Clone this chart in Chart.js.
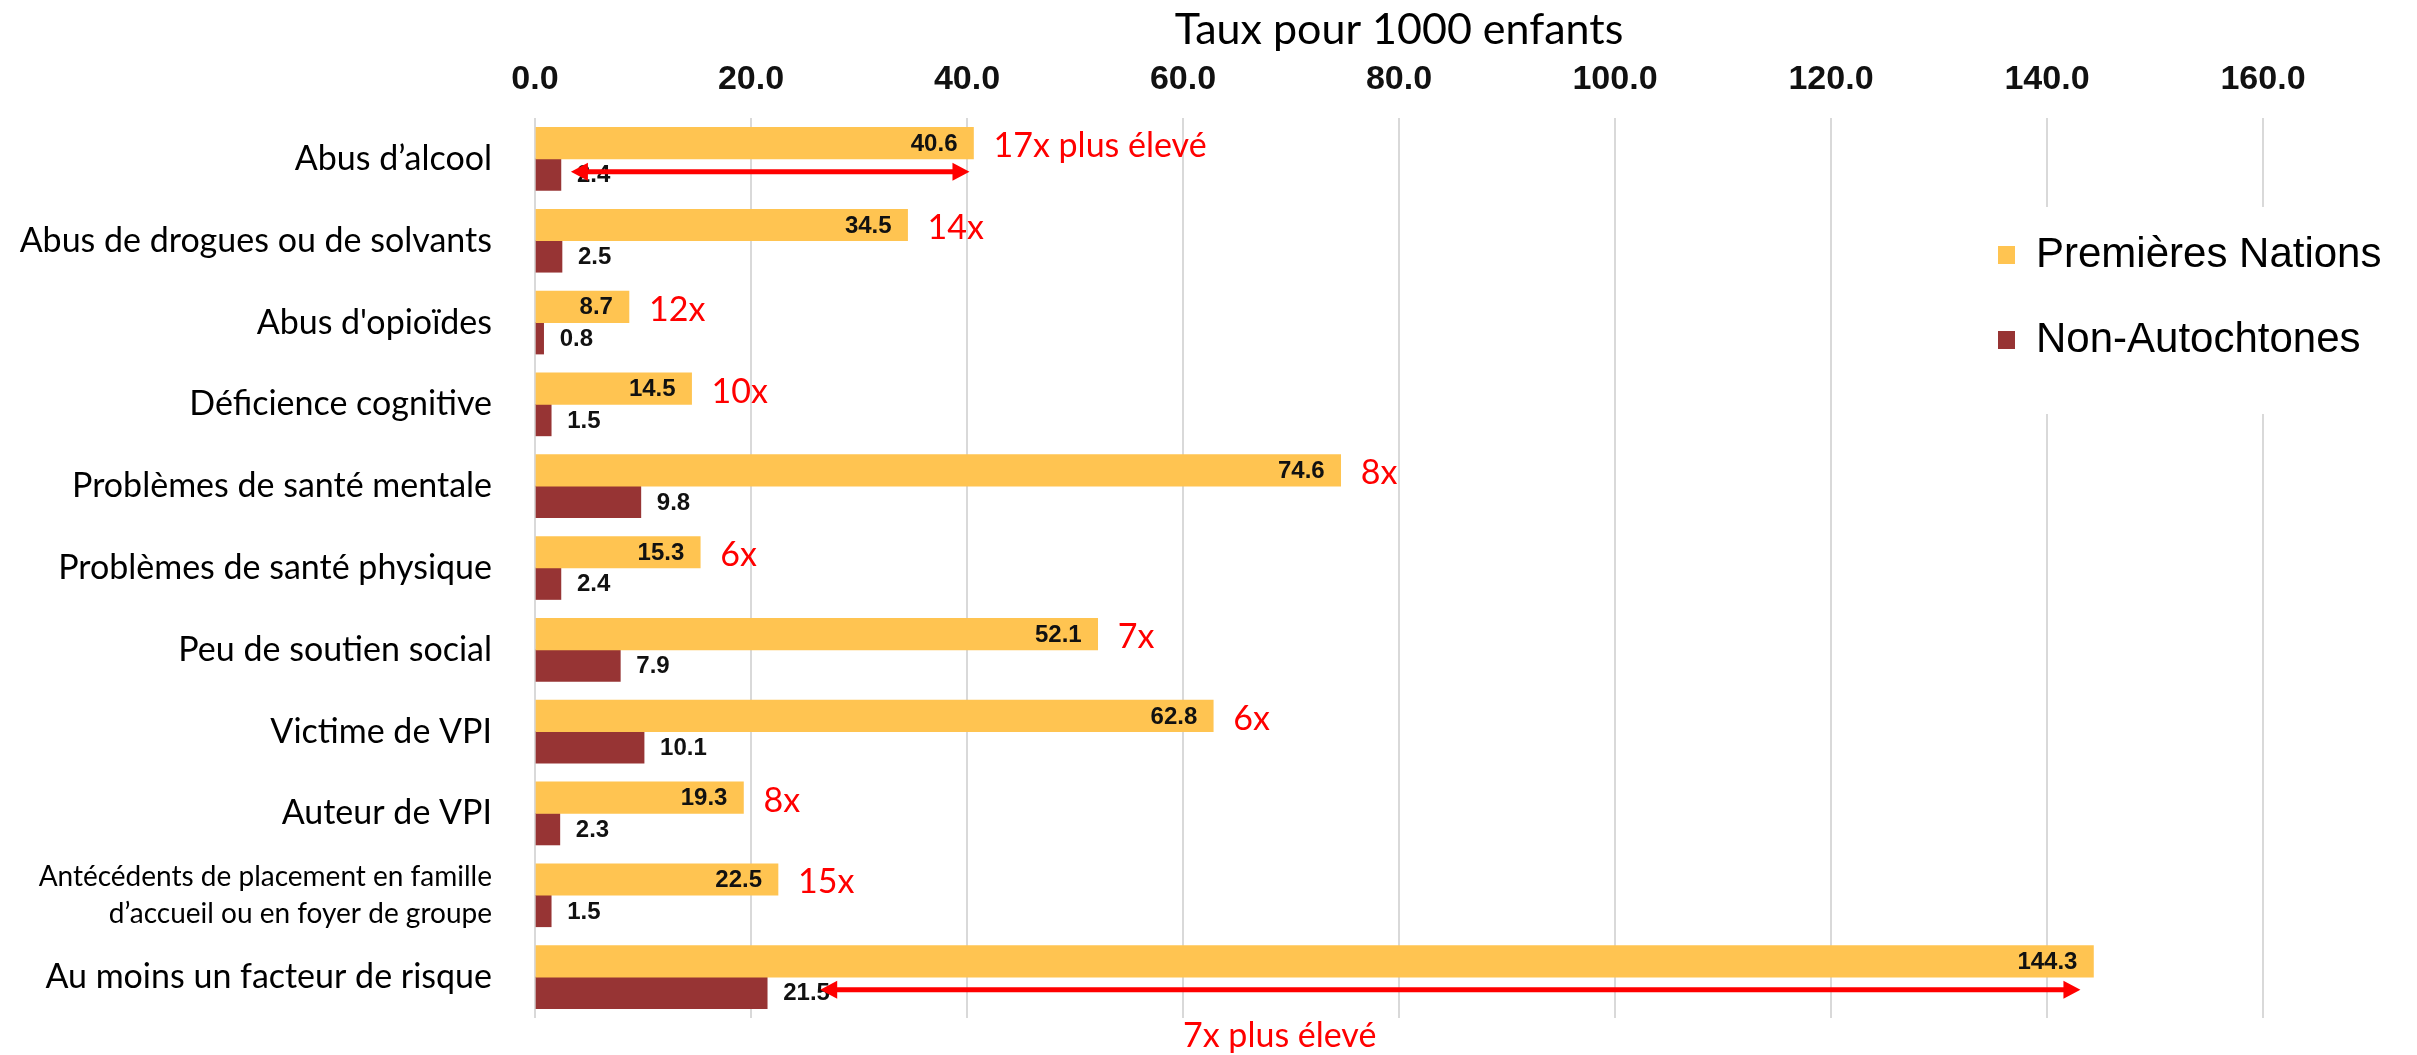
<!DOCTYPE html>
<html lang="fr">
<head>
<meta charset="UTF-8">
<title>Taux pour 1000 enfants</title>
<script src="https://cdn.jsdelivr.net/npm/chart.js"></script>
<style>
  html, body { margin: 0; padding: 0; background: #fff; }
  #wrap { width: 2417px; height: 1055px; position: relative; }
</style>
</head>
<body>
<div id="wrap"><canvas id="chart"></canvas></div>
<script>
// === DONNÉES ===
const categories = [
  'Abus d’alcool',
  'Abus de drogues ou de solvants',
  "Abus d'opioïdes",
  'Déficience cognitive',
  'Problèmes de santé mentale',
  'Problèmes de santé physique',
  'Peu de soutien social',
  'Victime de VPI',
  'Auteur de VPI',
  ['Antécédents de placement en famille', 'd’accueil ou en foyer de groupe'],
  'Au moins un facteur de risque'
];
const premieresNations = [40.6, 34.5, 8.7, 14.5, 74.6, 15.3, 52.1, 62.8, 19.3, 22.5, 144.3];
const nonAutochtones  = [2.4, 2.5, 0.8, 1.5, 9.8, 2.4, 7.9, 10.1, 2.3, 1.5, 21.5];
const ratios = ['17x plus élevé', '14x', '12x', '10x', '8x', '6x', '7x', '6x', '8x', '15x', ''];
const bottomNote = '7x plus élevé';
const xTickLabels = ['0.0', '20.0', '40.0', '60.0', '80.0', '100.0', '120.0', '140.0', '160.0'];
const arrowRows = [0, 10];

// === STYLES ===
const YELLOW = '#FFC451';
const MAROON = '#973434';
const RED = '#FF0000';
const GRID = '#d9d9d9';
const arrowGaps = { 0: [10, 4], 10: [53, 13] };  // px: gap after maroon end, gap before yellow end
const legendPos = { boxLeft: 1998, firstCenter: 255, pad: 43, fontSize: 42 };

// plugin: légende déplacée sur la droite du graphique
const legendMover = {
  id: 'legendMover',
  afterLayout(chart) {
    const lg = chart.legend;
    const h = lg.height;
    lg.left = legendPos.boxLeft - legendPos.pad;
    lg.right = lg.left + lg.width;
    lg.top = legendPos.firstCenter - legendPos.fontSize / 2 - legendPos.pad;
    lg.bottom = lg.top + h;
  },
  beforeDatasetsDraw(chart) {
    // zone blanche derrière la légende (pas de quadrillage à cet endroit)
    const ctx = chart.ctx;
    const x = chart.scales.x;
    ctx.save();
    ctx.fillStyle = '#fff';
    ctx.fillRect(x.getPixelForValue(130), 207, chart.width, 207);
    ctx.restore();
    chart.legend.draw();
  }
};

// plugin: valeurs, ratios, flèches
const annotations = {
  id: 'annotations',
  afterDatasetsDraw(chart) {
    const ctx = chart.ctx;
    const xs = chart.scales.x;
    const fnBars = chart.getDatasetMeta(0).data;
    const naBars = chart.getDatasetMeta(1).data;
    ctx.save();
    ctx.textBaseline = 'middle';
    ctx.font = 'bold 24px "Liberation Sans", Arial, sans-serif';
    ctx.fillStyle = '#111';
    fnBars.forEach((b, i) => {
      ctx.textAlign = 'right';
      ctx.fillText(premieresNations[i].toFixed(1), b.x - 16, b.y + 1);
    });
    naBars.forEach((b, i) => {
      ctx.textAlign = 'left';
      ctx.fillText(nonAutochtones[i].toFixed(1), b.x + 16, b.y + 1);
    });

    ctx.font = '34px Lato, sans-serif';
    ctx.fillStyle = RED;
    ctx.textAlign = 'left';
    fnBars.forEach((b, i) => {
      if (ratios[i]) ctx.fillText(ratios[i], b.x + 20, b.y + 3);
    });
    ctx.fillText(bottomNote, xs.getPixelForValue(60), chart.chartArea.bottom + 18);

    // flèches rouges
    ctx.strokeStyle = RED;
    ctx.lineWidth = 5;
    arrowRows.forEach(i => {
      const [g1, g2] = arrowGaps[i];
      const y = naBars[i].y - 3;
      const x1 = naBars[i].x + g1;
      const x2 = fnBars[i].x - g2;
      const hl = 17, hw = 9;
      ctx.beginPath();
      ctx.moveTo(x1 + hl - 2, y);
      ctx.lineTo(x2 - hl + 2, y);
      ctx.stroke();
      ctx.beginPath();
      ctx.moveTo(x1, y); ctx.lineTo(x1 + hl, y - hw); ctx.lineTo(x1 + hl, y + hw); ctx.closePath();
      ctx.moveTo(x2, y); ctx.lineTo(x2 - hl, y - hw); ctx.lineTo(x2 - hl, y + hw); ctx.closePath();
      ctx.fillStyle = RED;
      ctx.fill();
    });
    ctx.restore();
  }
};

const chart = new Chart(document.getElementById('chart'), {
  type: 'bar',
  data: {
    labels: categories,
    datasets: [
      { label: 'Premières Nations', data: premieresNations, backgroundColor: YELLOW, barThickness: 31.5 },
      { label: 'Non-Autochtones', data: nonAutochtones, backgroundColor: MAROON, barThickness: 31.5 }
    ]
  },
  options: {
    indexAxis: 'y',
    responsive: true,
    maintainAspectRatio: false,
    animation: false,
    layout: { padding: { top: 4, bottom: 37, left: 10, right: 154 } },
    plugins: {
      tooltip: { enabled: false },
      legend: {
        position: 'chartArea',
        align: 'start',
        labels: {
          boxWidth: 17,
          boxHeight: 18,
          padding: legendPos.pad,
          color: '#000',
          font: { family: '"Liberation Sans", Arial, sans-serif', size: legendPos.fontSize }
        }
      }
    },
    scales: {
      x: {
        position: 'top',
        min: 0,
        max: 160,
        afterFit: (s) => { s.height = 114; },
        ticks: {
          stepSize: 20,
          padding: 18,
          color: '#111',
          font: { family: '"Liberation Sans", Arial, sans-serif', size: 34, weight: 'bold' },
          callback: (v, i) => xTickLabels[i]
        },
        grid: { color: GRID, lineWidth: 2, drawTicks: false },
        border: { display: false },
        title: {
          display: true,
          text: 'Taux pour 1000 enfants',
          color: '#000',
          font: { family: 'Lato, sans-serif', size: 43 },
          padding: { top: 0, bottom: 4 }
        }
      },
      y: {
        afterFit: (s) => { s.width = 525; s.paddingTop = 0; s.paddingBottom = 0; },
        grid: { display: false },
        border: { display: false },
        ticks: {
          padding: 35,
          color: '#000',
          font: (c) => c.index === 9
            ? { family: 'Lato, sans-serif', size: 28, lineHeight: 1.32 }
            : { family: 'Lato, sans-serif', size: 34 }
        }
      }
    }
  },
  plugins: [legendMover, annotations]
});
</script>
</body>
</html>
